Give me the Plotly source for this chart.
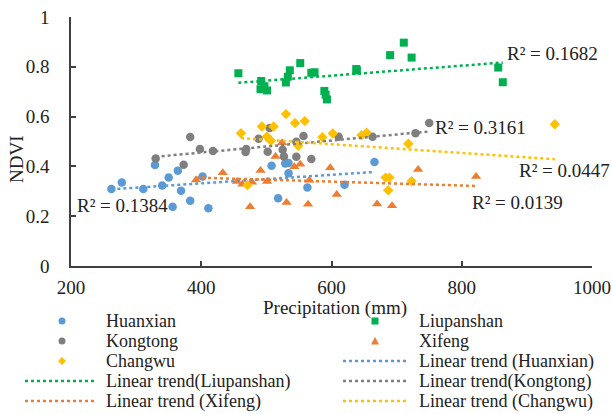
import numpy as np
import plotly.graph_objects as go

W, H = 612, 414
FONT = "Liberation Serif, Times New Roman, serif"

# ---------------- data ----------------
huanxian_x = [262, 278, 311, 329, 340, 350, 364, 356, 369, 383, 402, 411, 508, 529, 534, 534, 518, 563, 620, 666]
huanxian_y = [0.309, 0.335, 0.309, 0.406, 0.323, 0.355, 0.383, 0.238, 0.302, 0.262, 0.359, 0.232, 0.403, 0.412, 0.414, 0.372, 0.272, 0.315, 0.326, 0.418]

liupanshan_x = [457, 492, 491, 501, 497, 536, 533, 530, 552, 569, 574, 589, 591, 593, 638, 639, 690, 711, 723, 856, 863]
liupanshan_y = [0.774, 0.743, 0.710, 0.705, 0.722, 0.786, 0.760, 0.737, 0.815, 0.776, 0.778, 0.703, 0.688, 0.669, 0.791, 0.785, 0.847, 0.897, 0.837, 0.797, 0.738]

kongtong_x = [330, 373, 383, 398, 418, 469, 468, 488, 502, 505, 525, 527, 546, 546, 557, 569, 611, 663, 729, 750]
kongtong_y = [0.432, 0.407, 0.518, 0.470, 0.462, 0.470, 0.458, 0.511, 0.459, 0.554, 0.467, 0.440, 0.499, 0.439, 0.522, 0.430, 0.519, 0.519, 0.533, 0.574]

xifeng_x = [392, 433, 455, 463, 478, 475, 491, 501, 514, 524, 531, 543, 552, 564, 566, 598, 608, 670, 693, 733, 822]
xifeng_y = [0.345, 0.375, 0.339, 0.328, 0.336, 0.238, 0.384, 0.339, 0.440, 0.495, 0.255, 0.399, 0.409, 0.248, 0.344, 0.395, 0.287, 0.249, 0.242, 0.388, 0.359]

changwu_x = [461, 471, 493, 501, 507, 511, 530, 544, 549, 559, 586, 602, 646, 654, 683, 689, 687, 718, 723, 943]
changwu_y = [0.533, 0.325, 0.560, 0.520, 0.503, 0.560, 0.610, 0.574, 0.483, 0.582, 0.517, 0.532, 0.525, 0.535, 0.355, 0.355, 0.304, 0.491, 0.341, 0.569]

r2_labels = {
    "Huanxian": "R² = 0.1384",
    "Liupanshan": "R² = 0.1682",
    "Kongtong": "R² = 0.3161",
    "Xifeng": "R² = 0.0139",
    "Changwu": "R² = 0.0447",
}

x_ticks = [200, 400, 600, 800, 1000]
y_ticks = [0, 0.2, 0.4, 0.6, 0.8, 1]

# ---------------- styles ----------------
series = [
    ("Huanxian", huanxian_x, huanxian_y, "#5B9BD5", "circle", 8.5),
    ("Liupanshan", liupanshan_x, liupanshan_y, "#00B050", "square", 8),
    ("Kongtong", kongtong_x, kongtong_y, "#7F7F7F", "circle", 8.5),
    ("Xifeng", xifeng_x, xifeng_y, "#ED7D31", "triangle-up", 9),
    ("Changwu", changwu_x, changwu_y, "#FFC000", "diamond", 8),
]
colors = {s[0]: s[3] for s in series}
symbols = {s[0]: s[4] for s in series}

# plot area in pixels (margins)
ML, MR, MT, MB = 71, 20, 17, 148
PW, PH = W - ML - MR, H - MT - MB


def px(x):
    """pixel x -> paper x"""
    return (x - ML) / PW


def py(y):
    """pixel y -> paper y"""
    return (H - MB - y) / PH


fig = go.Figure()

for name, xs, ys, col, sym, size in series:
    fig.add_trace(go.Scatter(
        x=xs, y=ys, mode="markers", name=name, showlegend=False,
        marker=dict(color=col, symbol=sym, size=size, line=dict(width=0)),
    ))

for name, xs, ys, col, sym, size in series:
    xa = np.array(xs, dtype=float)
    ya = np.array(ys, dtype=float)
    k, b = np.polyfit(xa, ya, 1)
    xl = np.array([xa.min(), xa.max()])
    fig.add_trace(go.Scatter(
        x=xl, y=k * xl + b, mode="lines", name="Linear trend (" + name + ")", showlegend=False,
        line=dict(color=col, width=2.5, dash="dot"),
    ))

axis_common = dict(
    showline=True, linecolor="#404040", linewidth=1.5, mirror=False,
    ticks="inside", ticklen=5, tickwidth=1.5, tickcolor="#404040",
    showgrid=False, zeroline=False, automargin=False,
    tickfont=dict(family=FONT, size=19, color="#222"),
)

fig.update_layout(
    width=W, height=H,
    margin=dict(l=ML, r=MR, t=MT, b=MB, autoexpand=False),
    paper_bgcolor="white", plot_bgcolor="white",
    showlegend=False,
    font=dict(family=FONT, size=19, color="#222"),
    xaxis=dict(range=[200, 1000], tickvals=x_ticks, ticklabelstandoff=3, **axis_common),
    yaxis=dict(range=[0, 1], tickvals=y_ticks, ticklabelstandoff=16, **axis_common),
)

annotations = []
# axis titles
annotations.append(dict(text="Precipitation (mm)", x=px(335), y=py(308), xref="paper", yref="paper",
                        showarrow=False, xanchor="center", yanchor="middle",
                        font=dict(family=FONT, size=19, color="#222")))
annotations.append(dict(text="NDVI", x=px(16), y=py(159), xref="paper", yref="paper",
                        showarrow=False, xanchor="center", yanchor="middle", textangle=-90,
                        font=dict(family=FONT, size=19, color="#222")))

# R² labels (pixel positions of their centres)
r2_pos = {
    "Liupanshan": (552.5, 53),
    "Kongtong": (480.5, 127),
    "Changwu": (564, 171),
    "Xifeng": (517, 202),
    "Huanxian": (122.5, 205),
}
for name, (cx, cy) in r2_pos.items():
    annotations.append(dict(text=r2_labels[name], x=px(cx), y=py(cy), xref="paper", yref="paper",
                            showarrow=False, xanchor="center", yanchor="middle",
                            font=dict(family=FONT, size=19, color="#222")))

# ---------------- legend (two columns, drawn as layout decorations) ----------------
legend_items = [
    ("Huanxian", "marker", "Huanxian"),
    ("Liupanshan", "marker", "Liupanshan"),
    ("Kongtong", "marker", "Kongtong"),
    ("Xifeng", "marker", "Xifeng"),
    ("Changwu", "marker", "Changwu"),
    ("Huanxian", "line", "Linear trend (Huanxian)"),
    ("Liupanshan", "line", "Linear trend(Liupanshan)"),
    ("Kongtong", "line", "Linear trend(Kongtong)"),
    ("Xifeng", "line", "Linear trend (Xifeng)"),
    ("Changwu", "line", "Linear trend (Changwu)"),
]
col_marker_x = [62, 375]
col_line_x = [(25, 95), (343, 407)]
col_text_x = [104, 417]
row_y = [321, 341, 361, 381, 401]
LEG_FONT = 18

shapes = []
for i, (key, kind, label) in enumerate(legend_items):
    c = i % 2
    r = i // 2
    yy = row_y[r]
    col = colors[key]
    if kind == "line":
        shapes.append(dict(type="line", xref="paper", yref="paper",
                           x0=px(col_line_x[c][0]), x1=px(col_line_x[c][1]), y0=py(yy), y1=py(yy),
                           line=dict(color=col, width=2.5, dash="dot")))
    else:
        sym = symbols[key]
        base = dict(xref="paper", yref="paper", xsizemode="pixel", ysizemode="pixel",
                    xanchor=px(col_marker_x[c]), yanchor=py(yy),
                    fillcolor=col, line=dict(width=0))
        if sym == "circle":
            shapes.append(dict(type="circle", x0=-3.5, x1=3.5, y0=-3.5, y1=3.5, **base))
        elif sym == "square":
            shapes.append(dict(type="rect", x0=-3.5, x1=3.5, y0=-3.5, y1=3.5, **base))
        elif sym == "triangle-up":
            shapes.append(dict(type="path", path="M-4,-3.5 L4,-3.5 L0,4 Z", **base))
        elif sym == "diamond":
            shapes.append(dict(type="path", path="M0,-4 L4,0 L0,4 L-4,0 Z", **base))
    annotations.append(dict(text=label, x=px(col_text_x[c]), y=py(yy), xref="paper", yref="paper",
                            showarrow=False, xanchor="left", yanchor="middle",
                            font=dict(family=FONT, size=LEG_FONT, color="#222")))

fig.update_layout(annotations=annotations, shapes=shapes)

fig.write_html(
    "out.html",
    config={"displayModeBar": False},
    post_script="document.body.style.margin='0px';document.body.style.overflow='hidden';",
)
